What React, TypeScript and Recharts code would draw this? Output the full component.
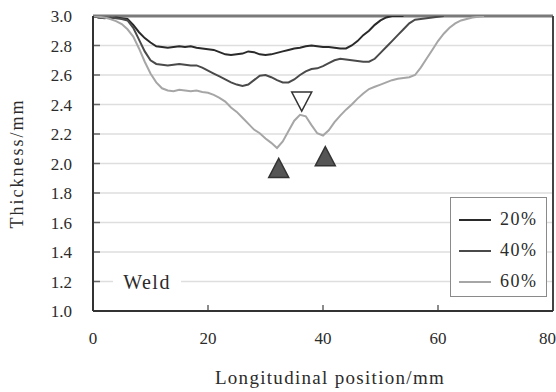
import { ComposedChart, Line, Scatter, XAxis, YAxis, CartesianGrid, ReferenceLine, ReferenceDot } from 'recharts';

// thickness (mm) at 1 mm steps of longitudinal position, starting at 0
const THICK_20 = [
  3.0, 2.99, 2.99, 2.985, 2.99, 2.985, 2.98, 2.94, 2.89, 2.85,
  2.82, 2.795, 2.79, 2.785, 2.79, 2.795, 2.79, 2.795, 2.785, 2.78,
  2.775, 2.77, 2.755, 2.74, 2.735, 2.74, 2.745, 2.76, 2.755, 2.74,
  2.735, 2.74, 2.75, 2.76, 2.77, 2.78, 2.785, 2.795, 2.8, 2.795,
  2.79, 2.79, 2.785, 2.78, 2.78, 2.8, 2.83, 2.87, 2.9, 2.94,
  2.97, 2.99, 3.0, 3.0, 3.0,
];
const THICK_40 = [
  3.0, 2.99, 2.985, 2.99, 2.985, 2.98, 2.97, 2.92, 2.84, 2.76,
  2.7, 2.675, 2.67, 2.665, 2.67, 2.675, 2.67, 2.665, 2.665, 2.65,
  2.63, 2.61, 2.59, 2.57, 2.55, 2.535, 2.525, 2.535, 2.565, 2.595,
  2.6, 2.585, 2.565, 2.55, 2.55, 2.57, 2.6, 2.625, 2.64, 2.645,
  2.66, 2.68, 2.7, 2.71, 2.705, 2.7, 2.695, 2.69, 2.69, 2.71,
  2.75, 2.79, 2.83, 2.87, 2.91, 2.95, 2.975, 2.98, 2.985, 2.99,
  2.995, 3.0,
];
const THICK_60 = [
  3.0, 2.995, 2.99, 2.98, 2.965, 2.945, 2.91, 2.86, 2.78, 2.69,
  2.61, 2.55, 2.51, 2.495, 2.49, 2.5, 2.495, 2.49, 2.495, 2.485,
  2.48, 2.465, 2.445, 2.42, 2.38, 2.35, 2.31, 2.27, 2.23, 2.205,
  2.17, 2.14, 2.105, 2.15, 2.22, 2.29, 2.33, 2.32, 2.26, 2.205,
  2.19, 2.225, 2.28, 2.325, 2.365, 2.4, 2.44, 2.475, 2.505, 2.52,
  2.535, 2.55, 2.565, 2.575, 2.58, 2.585, 2.6, 2.65, 2.71, 2.77,
  2.83, 2.88, 2.92, 2.95, 2.97, 2.98, 2.99, 2.995, 3.0,
];

const SERIES = [
  { name: '20%', values: THICK_20, color: '#2a2a2a' },
  { name: '40%', values: THICK_40, color: '#4a4a4a' },
  { name: '60%', values: THICK_60, color: '#a6a6a6' },
];

const MIN_MARKS = [
  { x: 32.3, y: 1.97 },
  { x: 40.4, y: 2.05 },
];
const PEAK_MARKS = [{ x: 36.3, y: 2.42 }];

const X_TICKS = [0, 20, 40, 60, 80];
const Y_TICKS = [1.0, 1.2, 1.4, 1.6, 1.8, 2.0, 2.2, 2.4, 2.6, 2.8, 3.0];

const WELD_LABEL = { x: 9.4, y: 1.2, text: 'Weld' };

const FONT = 'Liberation Serif, Times New Roman, serif';
const TEXT = '#2b2b2b';

const toPoints = (vals: number[]) => vals.map((v, i) => ({ x: i, y: v }));

function XTick(props: any) {
  const { x, y, payload } = props;
  const first = payload.value === X_TICKS[0];
  const last = payload.value === X_TICKS[X_TICKS.length - 1];
  return (
    <g>
      {!first && !last && <line x1={x} y1={y - 1} x2={x} y2={y - 6} stroke="#666" strokeWidth={1.5} />}
      <text
        x={last ? x + 3 : x}
        y={y + 33}
        textAnchor={last ? 'end' : 'middle'}
        style={{ fontFamily: FONT, fontSize: 17, fill: TEXT }}
      >
        {payload.value}
      </text>
    </g>
  );
}

function YTick(props: any) {
  const { x, y, payload } = props;
  const edge = payload.value === 1 || payload.value === 3;
  return (
    <g>
      {!edge && <line x1={x + 1} y1={y} x2={x + 7} y2={y} stroke="#666" strokeWidth={1.5} />}
      <text x={x - 21} y={y + 6} textAnchor="end" style={{ fontFamily: FONT, fontSize: 17, fill: TEXT }}>
        {Number(payload.value).toFixed(1)}
      </text>
    </g>
  );
}

function Triangle(props: any) {
  const { cx, cy, up, fill } = props;
  const w = 10;
  const h = 9.5;
  const pts = up
    ? `${cx},${cy - h} ${cx - w},${cy + h} ${cx + w},${cy + h}`
    : `${cx - w},${cy - h} ${cx + w},${cy - h} ${cx},${cy + h}`;
  return <polygon points={pts} fill={fill} stroke="#333" strokeWidth={1.5} />;
}

function WeldLabel(props: any) {
  const { cx, cy } = props;
  return (
    <g>
      <rect x={cx - 34} y={cy - 11} width={68} height={22} fill="#fff" />
      <text
        x={cx}
        y={cy + 7}
        textAnchor="middle"
        style={{ fontFamily: FONT, fontSize: 20, letterSpacing: 1.5, fill: TEXT }}
      >
        {WELD_LABEL.text}
      </text>
    </g>
  );
}

function LegendBox() {
  return (
    <div
      style={{
        position: 'absolute',
        left: 450,
        top: 197,
        width: 97,
        height: 100,
        boxSizing: 'border-box',
        border: '1.5px solid #8a8a8a',
        background: '#fff',
        paddingTop: 6,
      }}
    >
      {SERIES.map((s) => (
        <div key={s.name} style={{ display: 'flex', alignItems: 'center', height: 31 }}>
          <div style={{ width: 32, height: 2, background: s.color, marginLeft: 8, marginRight: 9 }} />
          <span style={{ fontFamily: FONT, fontSize: 18, letterSpacing: 1.5, color: TEXT }}>{s.name}</span>
        </div>
      ))}
    </div>
  );
}

export default function App() {
  return (
    <div style={{ position: 'absolute', left: 0, top: 0, width: 556, height: 392, background: '#fff' }}>
      <ComposedChart width={556} height={392} margin={{ top: 16, right: 3, left: 0, bottom: 0 }}>
        <CartesianGrid vertical={false} stroke="#dedede" strokeWidth={1.5} />
        <XAxis
          type="number"
          dataKey="x"
          domain={[0, 80]}
          ticks={X_TICKS}
          interval={0}
          allowDataOverflow
          height={81}
          tickSize={0}
          tickMargin={0}
          tickLine={false}
          axisLine={{ stroke: '#333', strokeWidth: 2 }}
          tick={<XTick />}
          label={{
            value: 'Longitudinal position/mm',
            position: 'insideBottom',
            offset: 8,
            dx: 7,
            style: { fontFamily: FONT, fontSize: 19, letterSpacing: 1.3, fill: TEXT },
          }}
        />
        <YAxis
          type="number"
          domain={[1, 3]}
          ticks={Y_TICKS}
          interval={0}
          allowDataOverflow
          width={93}
          tickSize={0}
          tickMargin={0}
          tickLine={false}
          axisLine={{ stroke: '#333', strokeWidth: 2 }}
          tick={<YTick />}
          label={{
            content: (p: any) => {
              const vb = p.viewBox;
              const cx = 17;
              const cy = vb.y + vb.height / 2;
              return (
                <text
                  x={cx}
                  y={cy}
                  transform={`rotate(-90 ${cx} ${cy})`}
                  textAnchor="middle"
                  dominantBaseline="central"
                  style={{ fontFamily: FONT, fontSize: 18, letterSpacing: 2, fill: TEXT }}
                >
                  Thickness/mm
                </text>
              );
            },
          }}
        />
        <ReferenceLine y={3} stroke="#7a7a7a" strokeWidth={3} />
        <ReferenceLine x={80} stroke="#444" strokeWidth={2} />
        <ReferenceDot x={WELD_LABEL.x} y={WELD_LABEL.y} shape={<WeldLabel />} />
        {SERIES.map((s) => (
          <Line
            key={s.name}
            data={toPoints(s.values)}
            dataKey="y"
            name={s.name}
            stroke={s.color}
            strokeWidth={2}
            dot={false}
            type="linear"
            isAnimationActive={false}
          />
        ))}
        <Scatter data={MIN_MARKS} dataKey="y" shape={<Triangle up fill="#555" />} isAnimationActive={false} />
        <Scatter data={PEAK_MARKS} dataKey="y" shape={<Triangle fill="#fff" />} isAnimationActive={false} />
      </ComposedChart>
      <LegendBox />
    </div>
  );
}
